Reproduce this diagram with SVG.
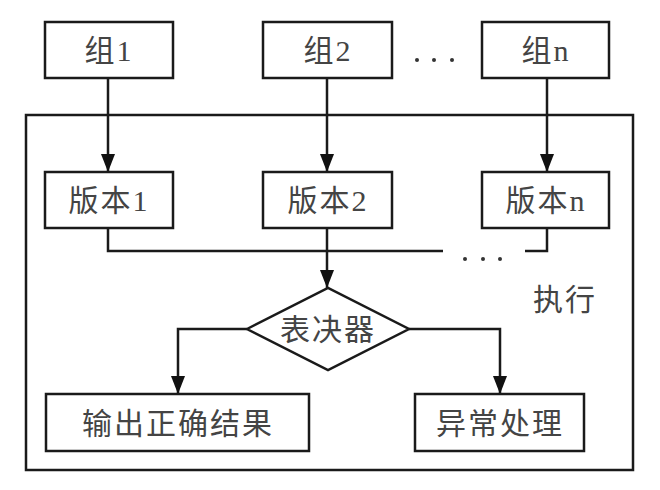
<svg xmlns="http://www.w3.org/2000/svg" width="660" height="490" viewBox="0 0 660 490">
<style>
.box{fill:#fff;stroke:#1a1a1a;stroke-width:2.5}
.ln{fill:none;stroke:#1a1a1a;stroke-width:2.5}
.t{font-family:"Liberation Serif","Noto Sans CJK SC",serif;font-size:30px;fill:#444;text-anchor:middle;letter-spacing:2px}
.dot{fill:#333}
</style>
<defs>
<marker id="ah" viewBox="0 0 14 18" refX="14" refY="7" markerWidth="14" markerHeight="18" markerUnits="userSpaceOnUse" orient="auto">
<path d="M0,0 L14,7 L0,14 Z" fill="#111"/>
</marker>
<marker id="a" viewBox="0 0 18 14" refX="18" refY="7" markerWidth="18" markerHeight="14" markerUnits="userSpaceOnUse" orient="auto">
<path d="M0,0 L18,7 L0,14 Z" fill="#111"/>
</marker>
</defs>
<rect width="660" height="490" fill="#fff"/>
<g id="outer"><rect class="box" x="26" y="115" width="607" height="355" fill="none"/></g>
<g id="connectors">
<path class="ln" d="M108,78 V172" marker-end="url(#a)"/>
<path class="ln" d="M327,78 V172" marker-end="url(#a)"/>
<path class="ln" d="M547,78 V172" marker-end="url(#a)"/>
<path class="ln" d="M108,228 V251 H443"/>
<path class="ln" d="M547,228 V251 H525"/>
<path class="ln" d="M327,228 V288" marker-end="url(#a)"/>
<path class="ln" d="M247,329 H178 V394" marker-end="url(#a)"/>
<path class="ln" d="M409,329 H500 V394" marker-end="url(#a)"/>
</g>
<g id="g1"><rect class="box" x="45" y="22" width="128" height="56"/><text class="t" x="109" y="61">组1</text></g>
<g id="g2"><rect class="box" x="263" y="22" width="129" height="56"/><text class="t" x="328" y="61">组2</text></g>
<g id="gdots"><circle class="dot" cx="417" cy="60" r="2"/><circle class="dot" cx="434" cy="60" r="2"/><circle class="dot" cx="452" cy="60" r="2"/></g>
<g id="gn"><rect class="box" x="482" y="22" width="127" height="56"/><text class="t" x="546" y="61">组n</text></g>
<g id="v1"><rect class="box" x="45" y="172" width="128" height="56"/><text class="t" x="109" y="211">版本1</text></g>
<g id="v2"><rect class="box" x="263" y="172" width="129" height="56"/><text class="t" x="328" y="211">版本2</text></g>
<g id="vn"><rect class="box" x="482" y="172" width="127" height="56"/><text class="t" x="546" y="211">版本n</text></g>
<g id="vdots"><circle class="dot" cx="465" cy="259" r="2"/><circle class="dot" cx="483" cy="259" r="2"/><circle class="dot" cx="500" cy="259" r="2"/></g>
<g id="exec"><text class="t" x="565" y="310">执行</text></g>
<g id="voter"><polygon class="box" points="247,329 328,288 409,329 328,370"/><text class="t" x="328" y="340">表决器</text></g>
<g id="out"><rect class="box" x="46" y="394" width="263" height="57"/><text class="t" x="178" y="434">输出正确结果</text></g>
<g id="exc"><rect class="box" x="415" y="394" width="169" height="57"/><text class="t" x="500" y="434">异常处理</text></g>
</svg>
